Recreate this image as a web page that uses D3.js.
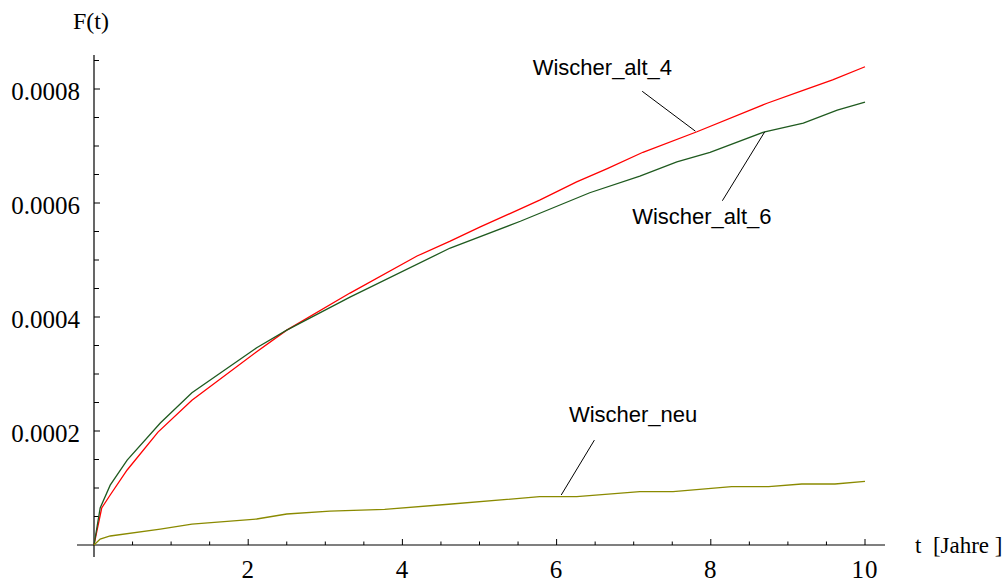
<!DOCTYPE html>
<html>
<head>
<meta charset="utf-8">
<script src="https://cdn.jsdelivr.net/npm/d3@7"></script>
<style>
  body { margin: 0; background: #fff; }
  svg { display: block; }
</style>
</head>
<body>
<div id="wrapper"></div>
<script>
// data (t in years, F(t))
const alt4T = [0, 0.04, 0.10, 0.21, 0.43, 0.83, 1.27, 2.11, 2.50, 3.32, 4.19, 4.62, 5.01, 5.78, 6.26, 6.65, 7.12, 7.82, 8.73, 9.16, 9.58, 10]
const alt4F = [0, 0.0000263, 0.0000649, 0.0000877, 0.0001316, 0.000198, 0.000254, 0.000339, 0.000377, 0.000442, 0.000507, 0.000533, 0.000558, 0.000605, 0.000637, 0.000660, 0.000689, 0.000725, 0.000775, 0.000796, 0.000816, 0.000839]

const alt6T = [0, 0.08, 0.21, 0.43, 0.86, 1.27, 2.11, 2.50, 3.32, 4.62, 5.53, 6.43, 7.08, 7.56, 7.99, 8.70, 9.20, 9.64, 10]
const alt6F = [0, 0.0000649, 0.000105, 0.000149, 0.000214, 0.000267, 0.000346, 0.000377, 0.000435, 0.000521, 0.000568, 0.000618, 0.000647, 0.000672, 0.000689, 0.000725, 0.000740, 0.000763, 0.000777]

const neuT = [0, 0.08, 0.21, 0.86, 1.27, 2.11, 2.50, 3.06, 3.77, 4.60, 5.78, 6.26, 7.08, 7.51, 8.27, 8.75, 9.18, 9.61, 10]
const neuF = [0, 0.0000105, 0.0000158, 0.000028, 0.0000368, 0.0000456, 0.0000544, 0.0000596, 0.0000626, 0.0000715, 0.0000848, 0.0000848, 0.0000936, 0.0000936, 0.0001023, 0.0001023, 0.000107, 0.000107, 0.0001118]

const xTickLabels = [2, 4, 6, 8, 10]
const yTickLabels = [0.0002, 0.0004, 0.0006, 0.0008]

const series = [
    { name: "Wischer_alt_4", t: alt4T, f: alt4F, color: "#ff0000" },
    { name: "Wischer_alt_6", t: alt6T, f: alt6F, color: "#1f5a1f" },
    { name: "Wischer_neu", t: neuT, f: neuF, color: "#8a8a00" },
]

// label text position and leader line, in data units
const notes = [
    { text: "Wischer_alt_4", tx: 5.69, ty: 0.000825, from: [7.11, 0.000796], to: [7.80, 0.000726] },
    { text: "Wischer_alt_6", tx: 6.98, ty: 0.000563, from: [8.15, 0.000604], to: [8.70, 0.000725] },
    { text: "Wischer_neu", tx: 6.16, ty: 0.000216, from: [6.49, 0.000184], to: [6.06, 0.0000877] },
]

const dims = { width: 1002, height: 582 }

const svg = d3.select("#wrapper")
    .append("svg")
    .attr("width", dims.width)
    .attr("height", dims.height)

const xScale = d3.scaleLinear()
    .domain([0, 10])
    .range([94, 865])

const yScale = d3.scaleLinear()
    .domain([0, 0.0008])
    .range([545, 89])

const serif = "'Liberation Serif', 'Times New Roman', serif"
const sans = "'Liberation Sans', Arial, sans-serif"

// axes
const xAxis = svg.append("g")
xAxis.append("line")
    .attr("x1", 77).attr("x2", 885)
    .attr("y1", yScale(0)).attr("y2", yScale(0))
    .attr("stroke", "black").attr("stroke-width", 1.2)

const xTicks = d3.range(0.5, 10.01, 0.5)
xAxis.selectAll(".xt")
    .data(xTicks)
    .join("line")
    .attr("x1", d => xScale(d)).attr("x2", d => xScale(d))
    .attr("y1", yScale(0))
    .attr("y2", d => yScale(0) - (d % 2 === 0 ? 6 : 3.5))
    .attr("stroke", "black").attr("stroke-width", 1)

xAxis.selectAll(".xl")
    .data(xTickLabels)
    .join("text")
    .attr("x", d => xScale(d))
    .attr("y", 578)
    .attr("text-anchor", "middle")
    .style("font-family", serif)
    .style("font-size", "25px")
    .style("letter-spacing", "1px")
    .text(d => d)

const yAxis = svg.append("g")
yAxis.append("line")
    .attr("x1", xScale(0)).attr("x2", xScale(0))
    .attr("y1", 557).attr("y2", 55)
    .attr("stroke", "black").attr("stroke-width", 1.2)

const yTicks = d3.range(1, 18).map(i => i * 0.00005)
yAxis.selectAll(".yt")
    .data(yTicks)
    .join("line")
    .attr("x1", xScale(0))
    .attr("x2", (d, i) => xScale(0) + ((i + 1) % 4 === 0 ? 6 : 5))
    .attr("y1", d => yScale(d)).attr("y2", d => yScale(d))
    .attr("stroke", "black").attr("stroke-width", 1)

yAxis.selectAll(".yl")
    .data(yTickLabels)
    .join("text")
    .attr("x", 80)
    .attr("y", d => yScale(d) + 11)
    .attr("text-anchor", "end")
    .style("font-family", serif)
    .style("font-size", "25px")
    .text(d => d.toFixed(4))

svg.append("text")
    .attr("x", 73).attr("y", 29)
    .style("font-family", serif)
    .style("font-size", "24px")
    .text("F(t)")

svg.append("text")
    .attr("x", 915).attr("y", 553)
    .style("font-family", serif)
    .style("font-size", "23px")
    .style("white-space", "pre")
    .text("t  [Jahre ]")

// curves
const line = d3.line()
    .x(d => xScale(d[0]))
    .y(d => yScale(d[1]))

svg.selectAll(".curve")
    .data(series)
    .join("path")
    .attr("d", s => line(s.t.map((t, i) => [t, s.f[i]])))
    .attr("fill", "none")
    .attr("stroke", s => s.color)
    .attr("stroke-width", 1.3)

// annotations
svg.selectAll(".leader")
    .data(notes)
    .join("line")
    .attr("x1", d => xScale(d.from[0])).attr("y1", d => yScale(d.from[1]))
    .attr("x2", d => xScale(d.to[0])).attr("y2", d => yScale(d.to[1]))
    .attr("stroke", "black").attr("stroke-width", 1)

svg.selectAll(".note")
    .data(notes)
    .join("text")
    .attr("x", d => xScale(d.tx))
    .attr("y", d => yScale(d.ty))
    .style("font-family", sans)
    .style("font-size", "22px")
    .text(d => d.text)
</script>
</body>
</html>
